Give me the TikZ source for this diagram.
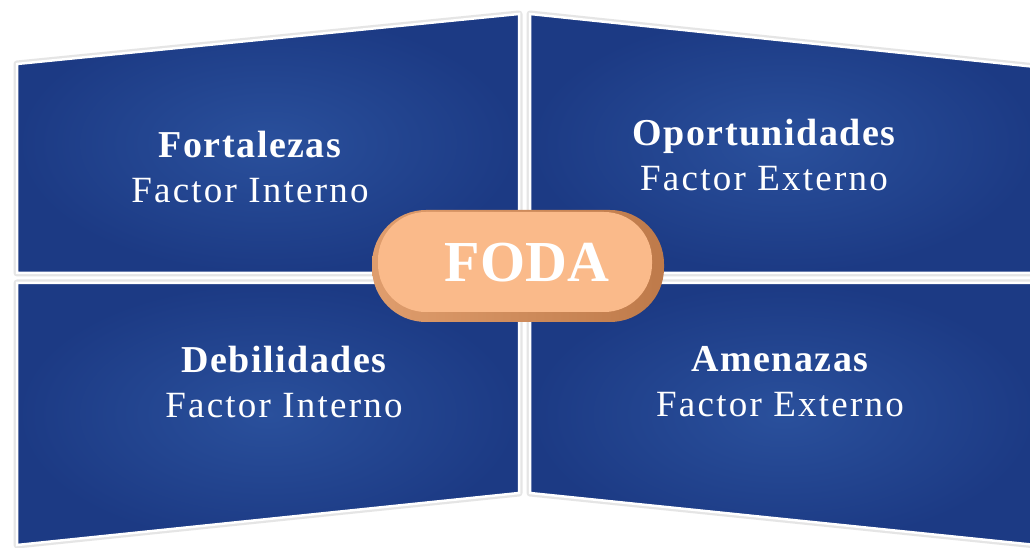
\documentclass[tikz,border=0pt]{standalone}
\usepackage{fontspec}
\setmainfont{Liberation Serif}
\newfontfamily\titlefont{Liberation Serif}[LetterSpace=4]
\newfontfamily\factorfont{Liberation Serif}[LetterSpace=6]
\usetikzlibrary{positioning}

\definecolor{panelDark}{RGB}{28,58,132}
\definecolor{panelLight}{RGB}{42,80,156}
\definecolor{pillFace}{RGB}{250,186,138}
\definecolor{pillEdge}{RGB}{190,122,74}

\begin{document}
\begin{tikzpicture}[
    x=1pt, y=1pt,
    panel/.style={
        inner color=panelLight,
        outer color=panelDark,
        draw=white,
        line width=2.5pt
    },
    panel halo/.style={
        draw=black!10,
        line width=7pt,
        line join=round
    },
    title/.style={
        font=\titlefont\fontsize{38}{40}\selectfont\bfseries,
        text=white,
        inner sep=0pt,
        anchor=base
    },
    factor/.style={
        font=\factorfont\fontsize{37}{40}\selectfont,
        text=white,
        inner sep=0pt,
        text height=26pt,
        text depth=0pt,
        below=18pt of #1.base
    },
    pill edge/.style={
        rectangle,
        rounded corners=54pt,
        left color=pillEdge!45!pillFace,
        right color=pillEdge,
        minimum width=292pt,
        minimum height=112pt
    },
    pill face/.style={
        rectangle,
        rounded corners=48pt,
        fill=pillFace,
        minimum width=274pt,
        minimum height=100pt
    }
]

\clip (0,0) rectangle (1030,548);
\fill [white] (0,0) rectangle (1030,548);

% Panels
\foreach \p in {
    {(17,484) -- (519,534) -- (519,275) -- (17,275) -- cycle},
    {(17,265) -- (519,265) -- (519,55) -- (17,3) -- cycle},
    {(530,534) -- (1036,481) -- (1036,275) -- (530,275) -- cycle},
    {(530,265) -- (1036,265) -- (1036,3) -- (530,55) -- cycle}}
    \draw [panel halo] \p;
\draw [panel] (17,484) -- (519,534) -- (519,275) -- (17,275) -- cycle;
\draw [panel] (17,265) -- (519,265) -- (519,55) -- (17,3) -- cycle;
\draw [panel] (530,534) -- (1036,481) -- (1036,275) -- (530,275) -- cycle;
\draw [panel] (530,265) -- (1036,265) -- (1036,3) -- (530,55) -- cycle;

% Fortalezas
\node [title] (fortalezas) at (250,390) {Fortalezas};
\node [factor=fortalezas] (fortalezas-f) {Factor Interno};

% Oportunidades
\node [title] (oportunidades) at (764,402) {Oportunidades};
\node [factor=oportunidades] (oportunidades-f) {Factor Externo};

% Debilidades
\node [title] (debilidades) at (284,175) {Debilidades};
\node [factor=debilidades] (debilidades-f) {Factor Interno};

% Amenazas
\node [title] (amenazas) at (780,176) {Amenazas};
\node [factor=amenazas] (amenazas-f) {Factor Externo};

% FODA
\node [pill edge] (pill) at (518,282) {};
\node [pill face] (face) at (515,286) {};
\node [font=\fontsize{58}{60}\selectfont\bfseries, text=white, anchor=base, inner sep=0pt] (foda) at (527,266) {FODA};

\end{tikzpicture}
\end{document}
